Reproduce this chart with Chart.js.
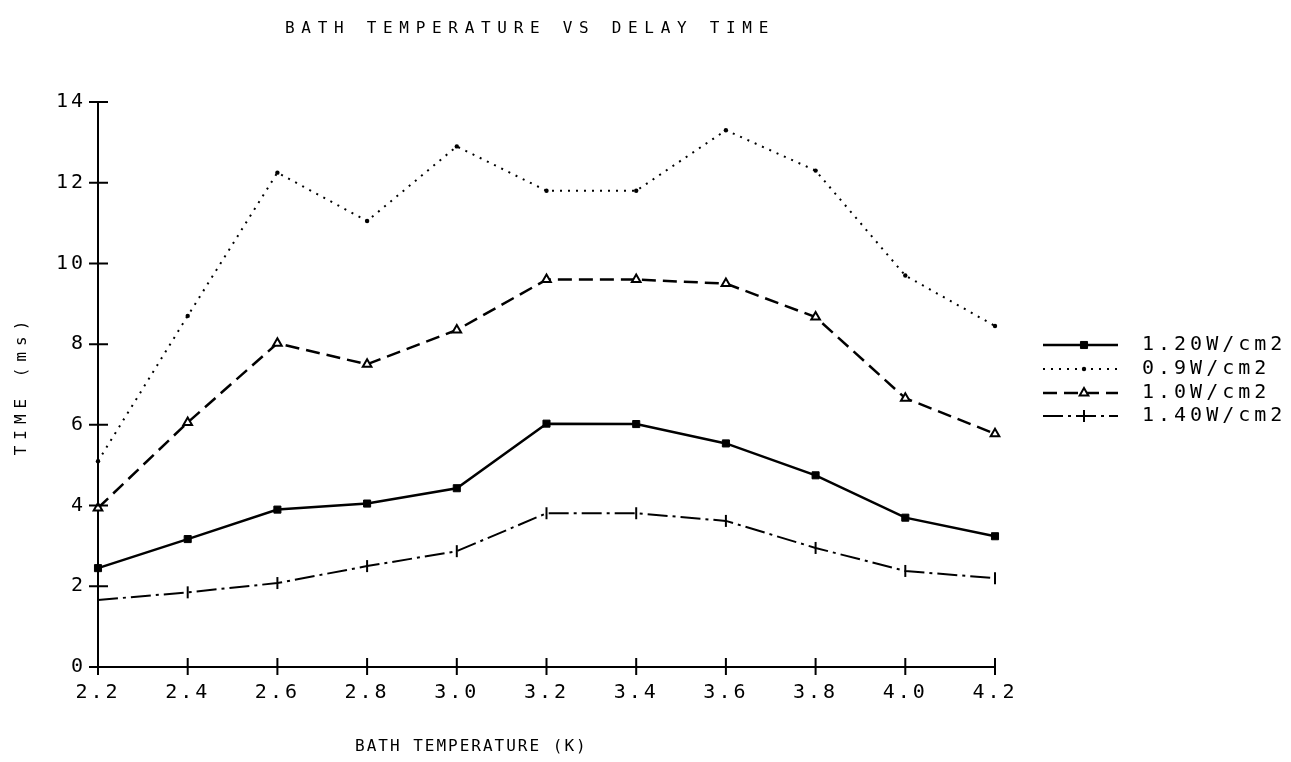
<!DOCTYPE html>
<html>
<head>
<meta charset="utf-8">
<script src="https://cdn.jsdelivr.net/npm/chart.js@4"></script>
<style>
  html, body { margin: 0; padding: 0; background: #fff; }
  #wrap { width: 1291px; height: 762px; }
</style>
</head>
<body>
<div id="wrap"><canvas id="chart" width="1291" height="762"></canvas></div>
<script>
(function () {
  // data
  const temps = ['2.2', '2.4', '2.6', '2.8', '3.0', '3.2', '3.4', '3.6', '3.8', '4.0', '4.2'];
  const w120 = [2.45, 3.17, 3.9, 4.05, 4.43, 6.03, 6.02, 5.54, 4.75, 3.7, 3.24];
  const w090 = [5.1, 8.7, 12.25, 11.05, 12.9, 11.8, 11.8, 13.3, 12.3, 9.7, 8.45];
  const w100 = [3.94, 6.06, 8.02, 7.5, 8.35, 9.6, 9.6, 9.5, 8.67, 6.66, 5.78];
  const w140 = [1.66, 1.85, 2.08, 2.5, 2.87, 3.81, 3.81, 3.62, 2.95, 2.38, 2.2];
  const seriesNames = ['1.20W/cm2', '0.9W/cm2', '1.0W/cm2', '1.40W/cm2'];
  const yTicks = [0, 2, 4, 6, 8, 10, 12, 14];

  const FONT = '"DejaVu Sans Mono", "Liberation Mono", monospace';

  const datasets = [
    {
      label: seriesNames[0], data: w120,
      borderColor: '#000', backgroundColor: '#000', borderWidth: 2.5,
      pointStyle: 'rect', pointRadius: 5, pointBorderWidth: 1,
    },
    {
      label: seriesNames[1], data: w090,
      borderColor: '#000', backgroundColor: '#000', borderWidth: 2,
      borderDash: [2, 6],
      pointStyle: 'circle', pointRadius: 2.2, pointBorderWidth: 0,
    },
    {
      label: seriesNames[2], data: w100,
      borderColor: '#000', backgroundColor: '#fff', borderWidth: 2.5,
      borderDash: [14, 7],
      pointStyle: 'triangle', pointRadius: 5, pointBorderWidth: 2,
    },
    {
      label: seriesNames[3], data: w140,
      borderColor: '#000', backgroundColor: '#000', borderWidth: 2,
      borderDash: [20, 5, 3, 5],
      pointStyle: 'line', pointRotation: 90, pointRadius: 6, pointBorderWidth: 2,
    },
  ];

  // crossing tick marks like the plotter output
  const crossTicks = {
    id: 'crossTicks',
    afterDraw(chart) {
      const { ctx, scales: { x, y } } = chart;
      ctx.save();
      ctx.strokeStyle = '#000';
      ctx.lineWidth = 2;
      ctx.beginPath();
      yTicks.forEach((v) => {
        const py = y.getPixelForValue(v);
        ctx.moveTo(x.left - 9, py);
        ctx.lineTo(x.left + 10, py);
      });
      temps.forEach((t, i) => {
        const px = x.getPixelForValue(i);
        ctx.moveTo(px, y.bottom - 9);
        ctx.lineTo(px, y.bottom + 8);
      });
      ctx.stroke();
      ctx.restore();
    },
  };

  // titles and legend drawn in the plotter lettering
  const labels = {
    id: 'labels',
    beforeDraw(chart) {
      chart.ctx.letterSpacing = '3px';
    },
    afterDraw(chart) {
      const { ctx } = chart;
      ctx.save();
      ctx.fillStyle = '#000';
      ctx.textBaseline = 'middle';

      ctx.font = '16px ' + FONT;
      ctx.letterSpacing = '6.7px';
      ctx.textAlign = 'left';
      ctx.fillText('BATH TEMPERATURE VS DELAY TIME', 285, 29);

      ctx.letterSpacing = '2px';
      ctx.fillText('BATH TEMPERATURE (K)', 355, 747);

      ctx.save();
      ctx.translate(22, 385);
      ctx.rotate(-Math.PI / 2);
      ctx.textAlign = 'center';
      ctx.letterSpacing = '6px';
      ctx.fillText('TIME (ms)', 0, 0);
      ctx.restore();

      // legend
      const rows = [345, 369, 393, 416];
      ctx.font = '20px ' + FONT;
      ctx.letterSpacing = '4px';
      chart.data.datasets.forEach((ds, i) => {
        const ly = rows[i];
        ctx.save();
        ctx.strokeStyle = '#000';
        ctx.lineWidth = ds.borderWidth;
        ctx.setLineDash(ds.borderDash || []);
        ctx.beginPath();
        ctx.moveTo(1043, ly);
        ctx.lineTo(1118, ly);
        ctx.stroke();
        ctx.restore();
        ctx.save();
        ctx.fillStyle = ds.backgroundColor;
        ctx.strokeStyle = ds.borderColor;
        ctx.lineWidth = ds.pointBorderWidth;
        Chart.helpers.drawPoint(ctx, {
          pointStyle: ds.pointStyle,
          rotation: ds.pointRotation || 0,
          radius: ds.pointRadius,
          borderWidth: ds.pointBorderWidth,
        }, 1084, ly);
        ctx.restore();
        ctx.fillStyle = '#000';
        ctx.textAlign = 'left';
        ctx.fillText(ds.label, 1142, ly);
      });
      ctx.restore();
    },
  };

  new Chart(document.getElementById('chart'), {
    type: 'line',
    data: { labels: temps, datasets },
    options: {
      responsive: false,
      animation: false,
      events: [],
      layout: { padding: { left: 0, top: 102, right: 296, bottom: 0 } },
      plugins: {
        legend: { display: false },
        tooltip: { enabled: false },
        title: { display: false },
      },
      elements: { line: { tension: 0 } },
      scales: {
        x: {
          type: 'category',
          offset: false,
          grid: { display: false, drawTicks: false },
          border: { color: '#000', width: 2 },
          ticks: {
            color: '#000', padding: 14, maxRotation: 0, autoSkip: false,
            font: { family: FONT, size: 20 },
          },
          afterFit(scale) { scale.height = 95; },
        },
        y: {
          min: 0, max: 14,
          afterBuildTicks(scale) { scale.ticks = yTicks.map((v) => ({ value: v })); },
          grid: { display: false, drawTicks: false },
          border: { color: '#000', width: 2 },
          ticks: {
            color: '#000', padding: 12,
            font: { family: FONT, size: 20 },
          },
          afterFit(scale) { scale.width = 98; },
        },
      },
    },
    plugins: [crossTicks, labels],
  });
})();
</script>
</body>
</html>
